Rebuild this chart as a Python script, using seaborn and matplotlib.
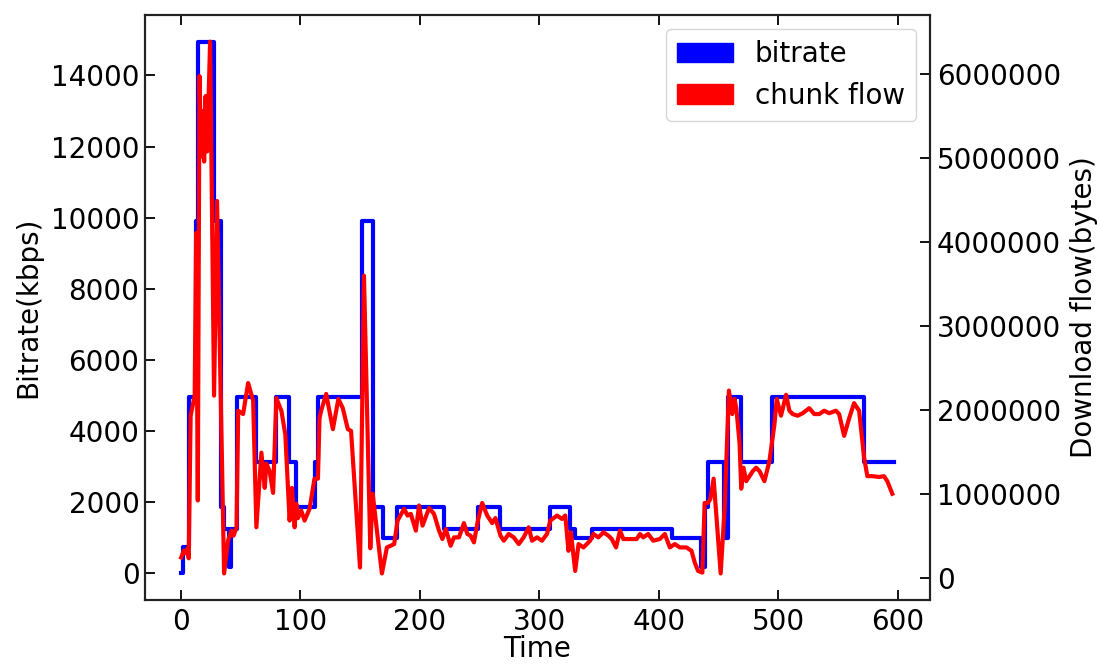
import matplotlib
matplotlib.use("Agg")
import matplotlib.pyplot as plt
import matplotlib.patches as mpatches
from matplotlib.ticker import MultipleLocator, ScalarFormatter
import pandas as pd
import seaborn as sns

# Selected bitrate (kbps), held constant from each change time to the next
bitrate_time = [0, 2.2, 6.7, 13.0, 14.8, 28.0, 33.8, 36.0, 40.5, 42.0,
                47.5, 63.3, 80.0, 91.0, 96.7, 112.0, 114.7, 152.0, 160.8, 169.0,
                181.0, 220.0, 249.0, 267.5, 308.6, 325.3, 330.0, 344.0, 410.6, 435.6,
                438.3, 441.0, 454.4, 457.5, 469.0, 495.0, 571.7, 597.0]
bitrate_kbps = [0, 750, 4950, 9900, 14950, 9900, 1870, 1250, 180, 1250,
                4950, 3120, 4950, 3120, 1870, 3120, 4950, 9900, 1870, 1000,
                1870, 1250, 1870, 1250, 1870, 1250, 1000, 1250, 1000, 180,
                1870, 3120, 1000, 4950, 3120, 4950, 3120, 3120]

# Downloaded bytes per chunk (millions of bytes)
chunk_time = [0.4, 2.5, 4.2, 5.8, 6.7, 8.3, 10.0, 11.7, 12.9, 14.3,
              15.7, 17.1, 18.3, 19.6, 20.8, 22.1, 24.6, 27.9, 30.4, 36.3,
              39.6, 42.5, 44.2, 46.7, 48.1, 52.2, 56.4, 60.6, 63.3, 67.5,
              70.3, 71.7, 74.4, 77.3, 80.0, 84.2, 87.5, 91.1, 93.1, 95.3,
              96.7, 98.1, 100.8, 103.6, 107.8, 111.9, 114.8, 116.1, 117.5, 121.7,
              124.4, 127.3, 131.9, 135.6, 139.8, 142.5, 150.0, 153.3, 158.6, 160.6,
              168.3, 172.5, 178.6, 181.4, 186.9, 189.8, 192.5, 196.7, 199.4, 202.3,
              207.8, 211.9, 216.1, 218.9, 221.7, 225.8, 228.6, 232.8, 236.9, 239.8,
              242.5, 245.3, 248.6, 252.2, 256.4, 260.6, 263.3, 267.5, 270.3, 274.4,
              278.6, 282.8, 286.9, 291.1, 293.9, 298.1, 302.2, 306.4, 309.2, 314.8,
              318.9, 321.7, 324.4, 326.4, 330.0, 332.8, 336.9, 342.5, 345.3, 349.4,
              353.6, 357.8, 360.6, 364.2, 367.5, 370.3, 375.8, 381.4, 384.2, 386.9,
              391.1, 395.3, 400.8, 405.0, 409.2, 413.3, 417.5, 423.1, 427.3, 430.0,
              432.8, 436.4, 438.3, 441.1, 443.1, 445.8, 448.6, 451.7, 455.0, 458.6,
              461.4, 463.3, 464.8, 467.5, 468.9, 470.8, 473.1, 475.8, 478.6, 481.4,
              484.2, 488.3, 492.5, 496.7, 498.6, 502.2, 506.4, 509.2, 511.9, 516.1,
              520.3, 525.8, 530.0, 534.2, 538.3, 542.5, 548.1, 550.8, 555.0, 559.2,
              563.3, 567.5, 571.7, 574.4, 578.6, 584.2, 588.3, 591.1, 595.3]
chunk_mbytes = [0.24, 0.32, 0.29, 0.35, 0.23, 1.93, 2.05, 2.17, 4.11, 0.92,
                5.98, 5.02, 5.56, 4.96, 5.74, 5.08, 6.39, 2.17, 4.49, 0.05,
                0.44, 0.56, 0.50, 0.60, 1.99, 1.95, 2.32, 2.11, 0.60, 1.49,
                1.07, 1.36, 1.27, 1.01, 2.14, 1.99, 1.71, 0.68, 1.07, 0.60,
                0.88, 0.71, 0.80, 0.68, 0.82, 1.18, 1.18, 1.90, 1.99, 2.19,
                1.99, 1.77, 2.13, 2.02, 1.77, 1.75, 0.12, 3.60, 0.35, 1.00,
                0.05, 0.36, 0.40, 0.68, 0.82, 0.74, 0.76, 0.56, 0.86, 0.62,
                0.83, 0.76, 0.56, 0.46, 0.58, 0.38, 0.48, 0.48, 0.65, 0.52,
                0.50, 0.42, 0.68, 0.89, 0.74, 0.65, 0.71, 0.50, 0.44, 0.52,
                0.48, 0.40, 0.48, 0.60, 0.44, 0.48, 0.44, 0.52, 0.68, 0.74,
                0.70, 0.74, 0.32, 0.54, 0.08, 0.40, 0.36, 0.44, 0.52, 0.48,
                0.54, 0.50, 0.46, 0.36, 0.56, 0.46, 0.46, 0.46, 0.52, 0.48,
                0.52, 0.44, 0.46, 0.52, 0.36, 0.40, 0.36, 0.36, 0.32, 0.18,
                0.08, 0.06, 0.89, 0.89, 0.94, 1.18, 0.65, 0.05, 0.82, 2.23,
                1.95, 2.13, 2.02, 1.60, 1.06, 1.31, 1.15, 1.21, 1.27, 1.31,
                1.27, 1.15, 1.39, 1.83, 2.13, 1.93, 2.18, 1.99, 1.95, 1.93,
                1.96, 2.02, 1.95, 1.95, 1.99, 1.96, 1.99, 1.95, 1.69, 1.90,
                2.08, 1.99, 1.43, 1.21, 1.21, 1.20, 1.21, 1.15, 1.00]

series_labels = ["bitrate", "chunk flow"]
series_colors = ["#0000ff", "#ff0000"]

FS = 20
plt.rcParams["font.family"] = ["DejaVu Sans"]
plt.rcParams["font.size"] = FS

bitrate_df = pd.DataFrame({"time": bitrate_time, "kbps": bitrate_kbps})
chunk_df = pd.DataFrame({"time": chunk_time,
                         "bytes": [v * 1e6 for v in chunk_mbytes]})

fig = plt.figure(figsize=(10.97, 6.65), dpi=100)
ax = fig.add_axes([0.1322, 0.0977, 0.7156, 0.8797])
ax2 = ax.twinx()

sns.lineplot(data=bitrate_df, x="time", y="kbps", ax=ax, color=series_colors[0],
             lw=3.0, drawstyle="steps-post", estimator=None, legend=False)
sns.lineplot(data=chunk_df, x="time", y="bytes", ax=ax2, color=series_colors[1],
             lw=3.0, estimator=None, legend=False)

ax.xaxis.set_major_locator(MultipleLocator(100))
ax.yaxis.set_major_locator(MultipleLocator(2000))
ax2.yaxis.set_major_locator(MultipleLocator(1000000))
fmt = ScalarFormatter(useOffset=False)
fmt.set_scientific(False)
ax2.yaxis.set_major_formatter(fmt)

ax.set_xlabel("Time", fontsize=FS, labelpad=-1)
ax.set_ylabel("Bitrate(kbps)", fontsize=FS, labelpad=6)
ax2.set_ylabel("Download flow(bytes)", fontsize=FS, labelpad=6)

ax.tick_params(axis="x", direction="in", length=7, width=1.3, labelsize=FS,
               top=True, bottom=True, pad=6)
ax.tick_params(axis="y", direction="in", length=7, width=1.3, labelsize=FS,
               left=True, right=False, pad=4)
ax2.tick_params(axis="y", direction="in", length=7, width=1.3, labelsize=FS,
                right=True, left=False, pad=5)
for a in (ax, ax2):
    for sp in a.spines.values():
        sp.set_linewidth(1.5)
        sp.set_color("#222222")

handles = [mpatches.Patch(color=c, label=l) for c, l in zip(series_colors, series_labels)]
ax2.legend(handles=handles, loc="upper right", fontsize=FS, frameon=True,
           fancybox=True, edgecolor="0.8")

fig.savefig("out.png", dpi=100)
